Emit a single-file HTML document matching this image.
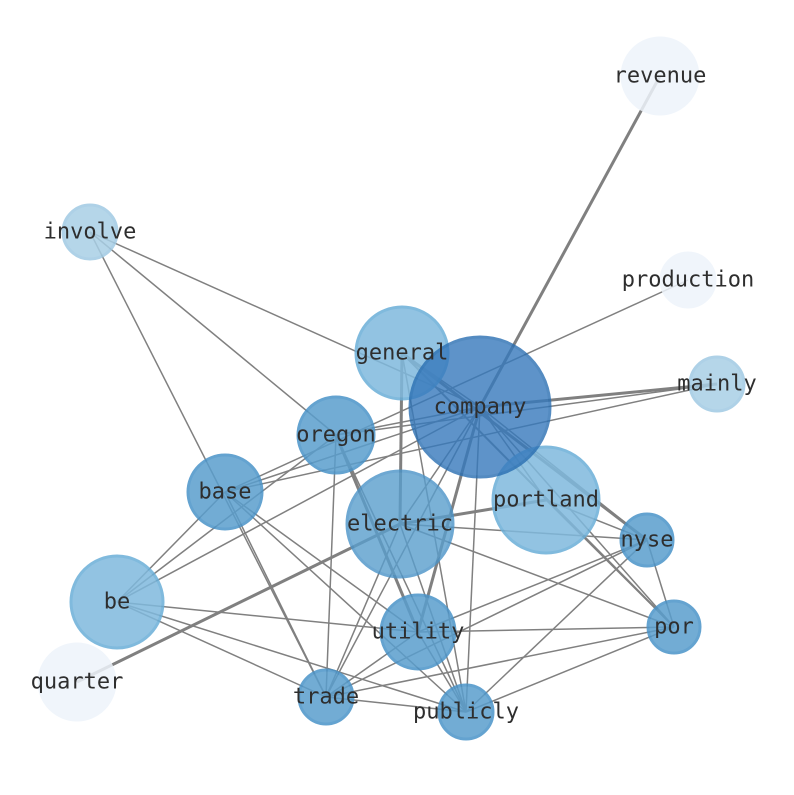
<!DOCTYPE html>
<html><head><style>html,body{margin:0;padding:0;background:#fff}</style></head><body>
<svg width="794" height="790" xmlns="http://www.w3.org/2000/svg">
<g stroke="#808080" stroke-width="1.5" fill="none">
<line x1="480" y1="407" x2="660" y2="76" stroke-width="3"/>
<line x1="480" y1="407" x2="717" y2="384" stroke-width="3"/>
<line x1="480" y1="407" x2="402" y2="353"/>
<line x1="480" y1="407" x2="336" y2="435"/>
<line x1="480" y1="407" x2="225" y2="492"/>
<line x1="480" y1="407" x2="400" y2="524"/>
<line x1="480" y1="407" x2="546" y2="500"/>
<line x1="480" y1="407" x2="647" y2="540"/>
<line x1="480" y1="407" x2="674" y2="627"/>
<line x1="480" y1="407" x2="418" y2="632" stroke-width="3"/>
<line x1="480" y1="407" x2="466" y2="712"/>
<line x1="480" y1="407" x2="326" y2="697"/>
<line x1="480" y1="407" x2="117" y2="602"/>
<line x1="90" y1="232" x2="480" y2="407"/>
<line x1="90" y1="232" x2="336" y2="435"/>
<line x1="90" y1="232" x2="326" y2="697"/>
<line x1="688" y1="280" x2="225" y2="492"/>
<line x1="717" y1="384" x2="336" y2="435"/>
<line x1="717" y1="384" x2="225" y2="492"/>
<line x1="402" y1="353" x2="400" y2="524" stroke-width="3"/>
<line x1="402" y1="353" x2="647" y2="540" stroke-width="3"/>
<line x1="402" y1="353" x2="674" y2="627" stroke-width="2"/>
<line x1="402" y1="353" x2="466" y2="712"/>
<line x1="400" y1="524" x2="546" y2="500" stroke-width="3"/>
<line x1="400" y1="524" x2="77" y2="682" stroke-width="3"/>
<line x1="400" y1="524" x2="647" y2="540"/>
<line x1="400" y1="524" x2="674" y2="627"/>
<line x1="400" y1="524" x2="466" y2="712"/>
<line x1="400" y1="524" x2="326" y2="697"/>
<line x1="336" y1="435" x2="418" y2="632" stroke-width="3"/>
<line x1="336" y1="435" x2="466" y2="712"/>
<line x1="336" y1="435" x2="326" y2="697"/>
<line x1="336" y1="435" x2="117" y2="602"/>
<line x1="225" y1="492" x2="418" y2="632"/>
<line x1="225" y1="492" x2="466" y2="712"/>
<line x1="225" y1="492" x2="326" y2="697"/>
<line x1="225" y1="492" x2="117" y2="602"/>
<line x1="117" y1="602" x2="418" y2="632"/>
<line x1="117" y1="602" x2="466" y2="712"/>
<line x1="117" y1="602" x2="326" y2="697"/>
<line x1="418" y1="632" x2="674" y2="627"/>
<line x1="418" y1="632" x2="647" y2="540"/>
<line x1="418" y1="632" x2="326" y2="697"/>
<line x1="418" y1="632" x2="466" y2="712"/>
<line x1="326" y1="697" x2="466" y2="712"/>
<line x1="326" y1="697" x2="647" y2="540"/>
<line x1="326" y1="697" x2="674" y2="627"/>
<line x1="466" y1="712" x2="647" y2="540"/>
<line x1="466" y1="712" x2="674" y2="627"/>
<line x1="647" y1="540" x2="674" y2="627"/>
<line x1="546" y1="500" x2="674" y2="627"/>
<line x1="546" y1="500" x2="647" y2="540"/>
</g>
<g stroke-width="3">
<circle cx="660" cy="76" r="38" fill="#eef4fb" stroke="#eef4fb" opacity="0.85"/>
<circle cx="688" cy="280" r="27" fill="#eef4fb" stroke="#eef4fb" opacity="0.85"/>
<circle cx="77" cy="682" r="38" fill="#eef4fb" stroke="#eef4fb" opacity="0.85"/>
<circle cx="90" cy="232" r="27" fill="#a9cfe6" stroke="#a0cae3" opacity="0.85"/>
<circle cx="717" cy="384" r="27" fill="#a9cfe6" stroke="#a0cae3" opacity="0.85"/>
<circle cx="402" cy="353" r="46" fill="#7fb9dd" stroke="#6aaed8" opacity="0.85"/>
<circle cx="546" cy="500" r="53" fill="#7fb9dd" stroke="#6aaed8" opacity="0.85"/>
<circle cx="117" cy="602" r="46" fill="#7fb9dd" stroke="#6aaed8" opacity="0.85"/>
<circle cx="480" cy="407" r="70" fill="#3679bc" stroke="#2a6fb2" opacity="0.8"/>
<circle cx="336" cy="435" r="38" fill="#5a9ecd" stroke="#4a93c8" opacity="0.85"/>
<circle cx="225" cy="492" r="37" fill="#5a9ecd" stroke="#4a93c8" opacity="0.85"/>
<circle cx="400" cy="524" r="53" fill="#5a9ecd" stroke="#4a93c8" opacity="0.8"/>
<circle cx="647" cy="540" r="26" fill="#5a9ecd" stroke="#4a93c8" opacity="0.85"/>
<circle cx="418" cy="632" r="37" fill="#5a9ecd" stroke="#4a93c8" opacity="0.85"/>
<circle cx="674" cy="627" r="26" fill="#5a9ecd" stroke="#4a93c8" opacity="0.85"/>
<circle cx="326" cy="697" r="27" fill="#5a9ecd" stroke="#4a93c8" opacity="0.85"/>
<circle cx="466" cy="712" r="27" fill="#5a9ecd" stroke="#4a93c8" opacity="0.85"/>
</g>
<g font-family="'DejaVu Sans Mono','Liberation Mono',monospace" font-size="22" fill="#2e2e2e" text-anchor="middle" dominant-baseline="central">
<text x="660" y="76">revenue</text>
<text x="688" y="280">production</text>
<text x="77" y="682">quarter</text>
<text x="90" y="232">involve</text>
<text x="717" y="384">mainly</text>
<text x="402" y="353">general</text>
<text x="546" y="500">portland</text>
<text x="117" y="602">be</text>
<text x="480" y="407">company</text>
<text x="336" y="435">oregon</text>
<text x="225" y="492">base</text>
<text x="400" y="524">electric</text>
<text x="647" y="540">nyse</text>
<text x="418" y="632">utility</text>
<text x="674" y="627">por</text>
<text x="326" y="697">trade</text>
<text x="466" y="712">publicly</text>
</g>
</svg>
</body></html>
